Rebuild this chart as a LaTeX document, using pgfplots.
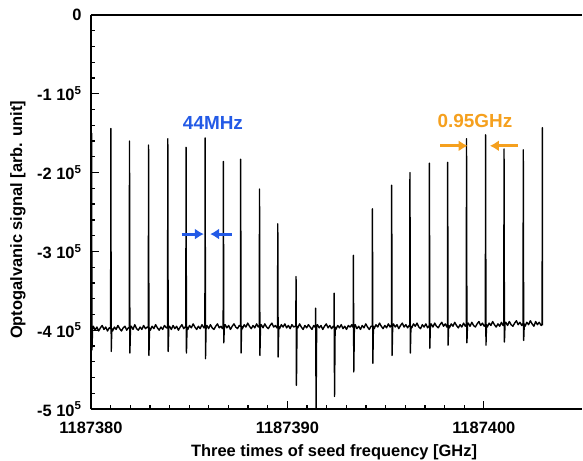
\documentclass[border=0pt]{standalone}
\usepackage{pgfplots}
\pgfplotsset{compat=1.18}
\usepackage{fontspec}
\setmainfont{Liberation Sans}
\usetikzlibrary{arrows.meta}
\definecolor{annblue}{RGB}{35,90,230}
\definecolor{annorange}{RGB}{245,160,30}

% frequency axis is shifted: x = f - 1187380 GHz, signal in units of 1e5
\pgfplotstableread[row sep=\\]{
x y \\
0.00 -3.98 \\ 0.02 -3.98 \\ 0.03 -1.50 \\ 0.05 -4.25 \\ 0.08 -3.98 \\
0.12 -3.95 \\ 0.21 -4.00 \\ 0.30 -3.96 \\ 0.39 -4.01 \\ 0.48 -3.97 \\ 0.57 -3.94 \\ 0.66 -3.99 \\ 0.75 -3.96 \\ 0.84 -4.01 \\ 0.93 -3.97 \\
1.00 -3.98 \\ 1.01 -1.44 \\ 1.03 -4.27 \\ 1.06 -3.98 \\
1.10 -4.01 \\ 1.19 -3.96 \\ 1.28 -3.99 \\ 1.37 -3.94 \\ 1.46 -3.98 \\ 1.55 -4.01 \\ 1.64 -3.97 \\ 1.73 -3.95 \\ 1.82 -4.00 \\ 1.90 -3.97 \\
1.95 -3.97 \\ 1.96 -1.60 \\ 1.98 -4.29 \\ 2.01 -3.97 \\
2.05 -3.95 \\ 2.14 -3.99 \\ 2.23 -3.93 \\ 2.32 -3.98 \\ 2.41 -4.00 \\ 2.50 -3.96 \\ 2.59 -3.99 \\ 2.68 -3.94 \\ 2.77 -3.98 \\ 2.86 -3.96 \\
2.92 -3.97 \\ 2.93 -1.65 \\ 2.95 -4.32 \\ 2.98 -3.97 \\
3.02 -4.00 \\ 3.11 -3.95 \\ 3.20 -3.98 \\ 3.29 -3.93 \\ 3.38 -3.97 \\ 3.47 -4.00 \\ 3.56 -3.96 \\ 3.65 -3.99 \\ 3.74 -3.94 \\ 3.84 -3.97 \\
3.90 -3.97 \\ 3.91 -1.57 \\ 3.93 -4.27 \\ 3.96 -3.97 \\
4.00 -3.95 \\ 4.09 -3.99 \\ 4.18 -3.94 \\ 4.27 -3.98 \\ 4.36 -3.95 \\ 4.45 -4.00 \\ 4.54 -3.96 \\ 4.63 -3.93 \\ 4.72 -3.98 \\ 4.79 -3.96 \\
4.83 -3.96 \\ 4.84 -1.68 \\ 4.86 -4.29 \\ 4.89 -3.96 \\
4.93 -3.99 \\ 5.02 -3.94 \\ 5.11 -3.97 \\ 5.20 -3.92 \\ 5.29 -3.96 \\ 5.38 -3.99 \\ 5.47 -3.95 \\ 5.56 -3.98 \\ 5.65 -3.93 \\ 5.75 -3.97 \\
5.80 -3.96 \\ 5.81 -1.56 \\ 5.83 -4.36 \\ 5.86 -3.96 \\
5.90 -3.94 \\ 5.99 -3.98 \\ 6.08 -3.93 \\ 6.17 -3.97 \\ 6.26 -3.99 \\ 6.35 -3.95 \\ 6.44 -3.92 \\ 6.53 -3.97 \\ 6.62 -3.95 \\ 6.69 -3.98 \\
6.73 -3.96 \\ 6.74 -1.86 \\ 6.76 -4.16 \\ 6.79 -3.96 \\
6.83 -3.93 \\ 6.92 -3.97 \\ 7.01 -3.94 \\ 7.10 -3.99 \\ 7.19 -3.95 \\ 7.28 -3.92 \\ 7.37 -3.96 \\ 7.46 -3.98 \\ 7.55 -3.94 \\
7.61 -3.95 \\ 7.62 -1.83 \\ 7.64 -4.29 \\ 7.67 -3.95 \\
7.71 -3.98 \\ 7.80 -3.93 \\ 7.89 -3.96 \\ 7.98 -3.91 \\ 8.07 -3.95 \\ 8.16 -3.98 \\ 8.25 -3.94 \\ 8.34 -3.97 \\ 8.43 -3.92 \\ 8.52 -3.96 \\
8.57 -3.95 \\ 8.58 -2.21 \\ 8.60 -4.32 \\ 8.63 -3.95 \\
8.67 -3.93 \\ 8.76 -3.97 \\ 8.85 -3.92 \\ 8.94 -3.96 \\ 9.03 -3.98 \\ 9.12 -3.94 \\ 9.21 -3.91 \\ 9.30 -3.96 \\ 9.39 -3.94 \\ 9.46 -3.97 \\
9.50 -3.95 \\ 9.51 -2.65 \\ 9.53 -4.34 \\ 9.56 -3.95 \\
9.60 -3.98 \\ 9.69 -3.93 \\ 9.78 -3.96 \\ 9.87 -3.92 \\ 9.96 -3.97 \\ 10.05 -3.94 \\ 10.14 -3.98 \\ 10.23 -3.93 \\ 10.32 -3.96 \\ 10.39 -3.95 \\
10.43 -3.95 \\ 10.44 -3.32 \\ 10.46 -4.70 \\ 10.49 -3.95 \\
10.53 -3.97 \\ 10.62 -3.92 \\ 10.71 -3.96 \\ 10.80 -3.99 \\ 10.89 -3.94 \\ 10.98 -3.97 \\ 11.07 -3.93 \\ 11.16 -3.96 \\ 11.25 -3.99 \\ 11.34 -3.94 \\ 11.40 -3.96 \\
11.43 -3.96 \\ 11.44 -3.72 \\ 11.46 -5.00 \\ 11.49 -3.96 \\
11.53 -3.93 \\ 11.62 -3.97 \\ 11.71 -3.94 \\ 11.80 -3.99 \\ 11.89 -3.95 \\ 11.98 -3.92 \\ 12.07 -3.97 \\ 12.16 -3.94 \\ 12.25 -3.98 \\ 12.33 -3.95 \\
12.37 -3.96 \\ 12.38 -3.53 \\ 12.40 -4.84 \\ 12.43 -3.96 \\
12.47 -3.99 \\ 12.56 -3.94 \\ 12.65 -3.97 \\ 12.74 -3.93 \\ 12.83 -3.98 \\ 12.92 -3.95 \\ 13.01 -3.99 \\ 13.10 -3.94 \\ 13.19 -3.96 \\ 13.28 -3.93 \\ 13.32 -3.96 \\
13.35 -3.96 \\ 13.36 -3.05 \\ 13.38 -4.53 \\ 13.41 -3.96 \\
13.45 -3.93 \\ 13.54 -3.98 \\ 13.63 -3.95 \\ 13.72 -3.99 \\ 13.81 -3.94 \\ 13.90 -3.97 \\ 13.99 -3.92 \\ 14.08 -3.96 \\ 14.17 -3.99 \\ 14.26 -3.95 \\
14.32 -3.95 \\ 14.33 -2.46 \\ 14.35 -4.42 \\ 14.38 -3.95 \\
14.42 -3.98 \\ 14.51 -3.93 \\ 14.60 -3.96 \\ 14.69 -3.91 \\ 14.78 -3.95 \\ 14.87 -3.98 \\ 14.96 -3.94 \\ 15.05 -3.97 \\ 15.14 -3.92 \\ 15.23 -3.96 \\ 15.28 -3.94 \\
15.30 -3.95 \\ 15.31 -2.16 \\ 15.33 -4.32 \\ 15.36 -3.95 \\
15.40 -3.92 \\ 15.49 -3.96 \\ 15.58 -3.93 \\ 15.67 -3.98 \\ 15.76 -3.94 \\ 15.85 -3.91 \\ 15.94 -3.96 \\ 16.03 -3.93 \\ 16.12 -3.97 \\ 16.20 -3.94 \\
16.23 -3.95 \\ 16.24 -2.00 \\ 16.26 -4.29 \\ 16.29 -3.95 \\
16.33 -3.97 \\ 16.42 -3.92 \\ 16.51 -3.95 \\ 16.60 -3.91 \\ 16.69 -3.96 \\ 16.78 -3.98 \\ 16.87 -3.93 \\ 16.96 -3.96 \\ 17.05 -3.92 \\ 17.14 -3.97 \\ 17.20 -3.95 \\
17.22 -3.94 \\ 17.23 -1.88 \\ 17.25 -4.23 \\ 17.28 -3.94 \\
17.32 -3.92 \\ 17.41 -3.96 \\ 17.50 -3.91 \\ 17.59 -3.95 \\ 17.68 -3.97 \\ 17.77 -3.93 \\ 17.86 -3.90 \\ 17.95 -3.95 \\ 18.04 -3.92 \\ 18.12 -3.96 \\
18.15 -3.94 \\ 18.16 -1.87 \\ 18.18 -4.19 \\ 18.21 -3.94 \\
18.25 -3.97 \\ 18.34 -3.92 \\ 18.43 -3.95 \\ 18.52 -3.90 \\ 18.61 -3.94 \\ 18.70 -3.97 \\ 18.79 -3.93 \\ 18.88 -3.96 \\ 18.97 -3.91 \\ 19.06 -3.95 \\
19.11 -3.93 \\ 19.12 -1.57 \\ 19.14 -4.16 \\ 19.17 -3.93 \\
19.21 -3.91 \\ 19.30 -3.95 \\ 19.39 -3.90 \\ 19.48 -3.94 \\ 19.57 -3.96 \\ 19.66 -3.92 \\ 19.75 -3.89 \\ 19.84 -3.94 \\ 19.93 -3.91 \\ 20.02 -3.95 \\
20.08 -3.93 \\ 20.09 -1.52 \\ 20.11 -4.19 \\ 20.14 -3.93 \\
20.18 -3.96 \\ 20.27 -3.91 \\ 20.36 -3.94 \\ 20.45 -3.89 \\ 20.54 -3.93 \\ 20.63 -3.96 \\ 20.72 -3.92 \\ 20.81 -3.95 \\ 20.90 -3.90 \\ 20.98 -3.94 \\
21.02 -3.92 \\ 21.03 -1.70 \\ 21.05 -4.15 \\ 21.08 -3.92 \\
21.12 -3.90 \\ 21.21 -3.94 \\ 21.30 -3.89 \\ 21.39 -3.93 \\ 21.48 -3.95 \\ 21.57 -3.91 \\ 21.66 -3.88 \\ 21.75 -3.93 \\ 21.84 -3.90 \\ 21.93 -3.94 \\ 21.98 -3.92 \\
22.00 -3.92 \\ 22.01 -1.71 \\ 22.03 -4.13 \\ 22.06 -3.92 \\
22.10 -3.95 \\ 22.19 -3.90 \\ 22.28 -3.93 \\ 22.37 -3.88 \\ 22.46 -3.92 \\ 22.55 -3.95 \\ 22.64 -3.89 \\ 22.73 -3.93 \\ 22.82 -3.90 \\ 22.92 -3.94 \\
22.97 -3.93 \\ 22.98 -1.43 \\ 22.99 -3.94 \\
}\signal

\begin{document}
\begin{tikzpicture}
\begin{axis}[
    scale only axis,
    width=491bp, height=394bp,
    xmin=0, xmax=25, ymin=-5, ymax=0,
    axis x line*=box, axis y line*=left,
    axis line style={line width=1.4pt},
    xtick={0,10,20},
    xticklabels={1187380,1187390,1187400},
    minor x tick num=9,
    ytick={-5,-4,-3,-2,-1,0},
    yticklabels={-5 10\textsuperscript{5},-4 10\textsuperscript{5},-3 10\textsuperscript{5},-2 10\textsuperscript{5},-1 10\textsuperscript{5},0},
    minor y tick num=4,
    xtick pos=bottom, ytick pos=left,
    tick align=inside,
    major tick length=8bp, minor tick length=4.5bp,
    every tick/.style={line width=1.3pt, black},
    tick label style={font=\fontsize{16.5}{18}\selectfont\bfseries},
    xticklabel style={yshift=-10bp},
    yticklabel style={xshift=-6bp},
    label style={font=\fontsize{16.5}{18}\selectfont\bfseries},
    xlabel={Three times of seed frequency [GHz]},
    ylabel={Optogalvanic signal [arb. unit]},
    xlabel style={at={(axis description cs:0.495,-0.11)}, anchor=center},
    ylabel style={at={(axis description cs:-0.149,0.48)}, anchor=center},
    clip=false,
]
\addplot[black, line width=1.4pt, line join=round] table[x=x, y=y] {\signal};
\node[text=annblue, font=\fontsize{19}{21}\selectfont\bfseries] at (axis cs:6.21,-1.37) {44MHz};
\draw[annblue, line width=3pt, -{Latex[length=9bp,width=11bp]}] (axis cs:4.62,-2.78) -- (axis cs:5.75,-2.78);
\draw[annblue, line width=3pt, -{Latex[length=9bp,width=11bp]}] (axis cs:7.16,-2.78) -- (axis cs:6.06,-2.78);
\node[text=annorange, font=\fontsize{19}{21}\selectfont\bfseries] at (axis cs:19.55,-1.35) {0.95GHz};
\draw[annorange, line width=3pt, -{Latex[length=9bp,width=11bp]}] (axis cs:17.77,-1.66) -- (axis cs:19.18,-1.66);
\draw[annorange, line width=3pt, -{Latex[length=9bp,width=11bp]}] (axis cs:21.74,-1.66) -- (axis cs:20.31,-1.66);
\end{axis}
\pgfresetboundingbox
\path ([xshift=-91bp,yshift=-52bp]current axis.south west) rectangle ([xshift=1bp,yshift=15bp]current axis.north east);
\end{tikzpicture}
\end{document}
